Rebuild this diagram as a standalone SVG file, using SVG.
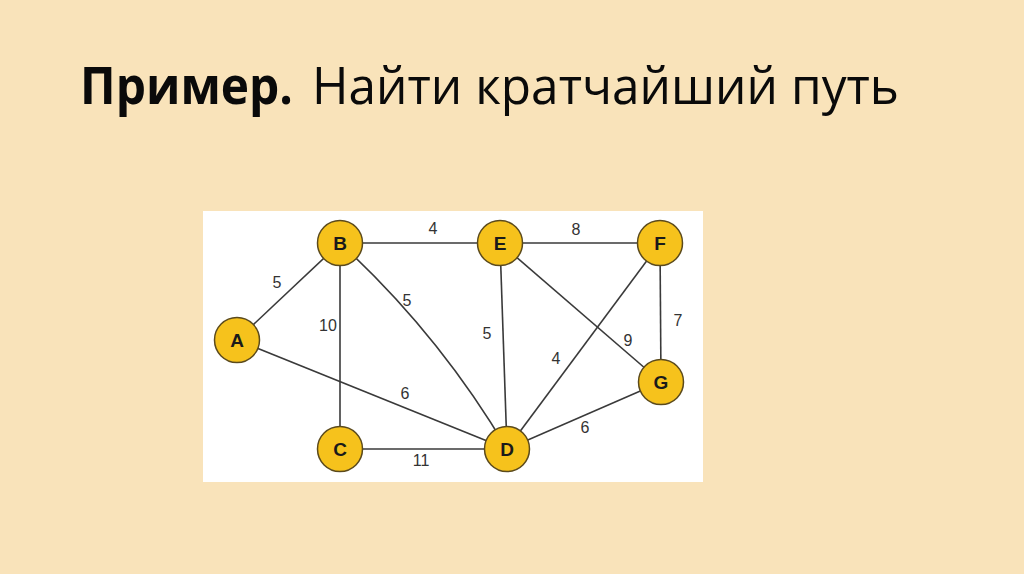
<svg xmlns="http://www.w3.org/2000/svg" width="1024" height="574" viewBox="0 0 1024 574">
<style>
.edge{stroke:#3a3a3a;stroke-width:1.6;fill:none}
.node circle{fill:#F6C21C;stroke:#5b4a1c;stroke-width:1.5}
.node text{font-family:"Liberation Sans",Arial,sans-serif;font-weight:bold;font-size:19px;fill:#1a1a1a;text-anchor:middle;dominant-baseline:central}
.lbl{font-family:"Liberation Sans",Arial,sans-serif;font-size:16px;fill:#333;text-anchor:middle;dominant-baseline:central}
</style>
<rect width="1024" height="574" fill="#F9E3BA"/>
<text x="80" y="104" font-family="'Open Sans','Noto Sans',sans-serif" font-size="52" fill="#0a0a0a"><tspan font-weight="bold" textLength="213" lengthAdjust="spacingAndGlyphs">Пример.</tspan><tspan x="312" textLength="587" lengthAdjust="spacingAndGlyphs">Найти кратчайший путь</tspan></text>
<rect x="203" y="211" width="500" height="271" fill="#ffffff"/>
<g id="connectors">
<line class="edge" x1="340" y1="243" x2="500" y2="243"/>
<line class="edge" x1="500" y1="243" x2="660" y2="243"/>
<line class="edge" x1="237" y1="340" x2="340" y2="243"/>
<line class="edge" x1="340" y1="243" x2="340" y2="449"/>
<path class="edge" d="M340 243 Q439 334 507 449"/>
<line class="edge" x1="237" y1="340" x2="507" y2="449"/>
<line class="edge" x1="340" y1="449" x2="507" y2="449"/>
<line class="edge" x1="500" y1="243" x2="507" y2="449"/>
<line class="edge" x1="500" y1="243" x2="661" y2="382"/>
<line class="edge" x1="660" y1="243" x2="507" y2="449"/>
<line class="edge" x1="660" y1="243" x2="661" y2="382"/>
<line class="edge" x1="507" y1="449" x2="661" y2="382"/>
<text class="lbl" x="433" y="228">4</text>
<text class="lbl" x="576" y="229">8</text>
<text class="lbl" x="277" y="282">5</text>
<text class="lbl" x="328" y="325">10</text>
<text class="lbl" x="407" y="300">5</text>
<text class="lbl" x="405" y="393">6</text>
<text class="lbl" x="421" y="460">11</text>
<text class="lbl" x="487" y="333">5</text>
<text class="lbl" x="556" y="358">4</text>
<text class="lbl" x="628" y="340">9</text>
<text class="lbl" x="678" y="320">7</text>
<text class="lbl" x="585" y="427">6</text>
</g>
<g id="node-B" class="node"><circle cx="340" cy="243" r="22.5"/><text x="340" y="243">B</text></g>
<g id="node-E" class="node"><circle cx="500" cy="243" r="22.5"/><text x="500" y="243">E</text></g>
<g id="node-F" class="node"><circle cx="660" cy="243" r="22.5"/><text x="660" y="243">F</text></g>
<g id="node-A" class="node"><circle cx="237" cy="340" r="22.5"/><text x="237" y="340">A</text></g>
<g id="node-G" class="node"><circle cx="661" cy="382" r="22.5"/><text x="661" y="382">G</text></g>
<g id="node-C" class="node"><circle cx="340" cy="449" r="22.5"/><text x="340" y="449">C</text></g>
<g id="node-D" class="node"><circle cx="507" cy="449" r="22.5"/><text x="507" y="449">D</text></g>
</svg>
